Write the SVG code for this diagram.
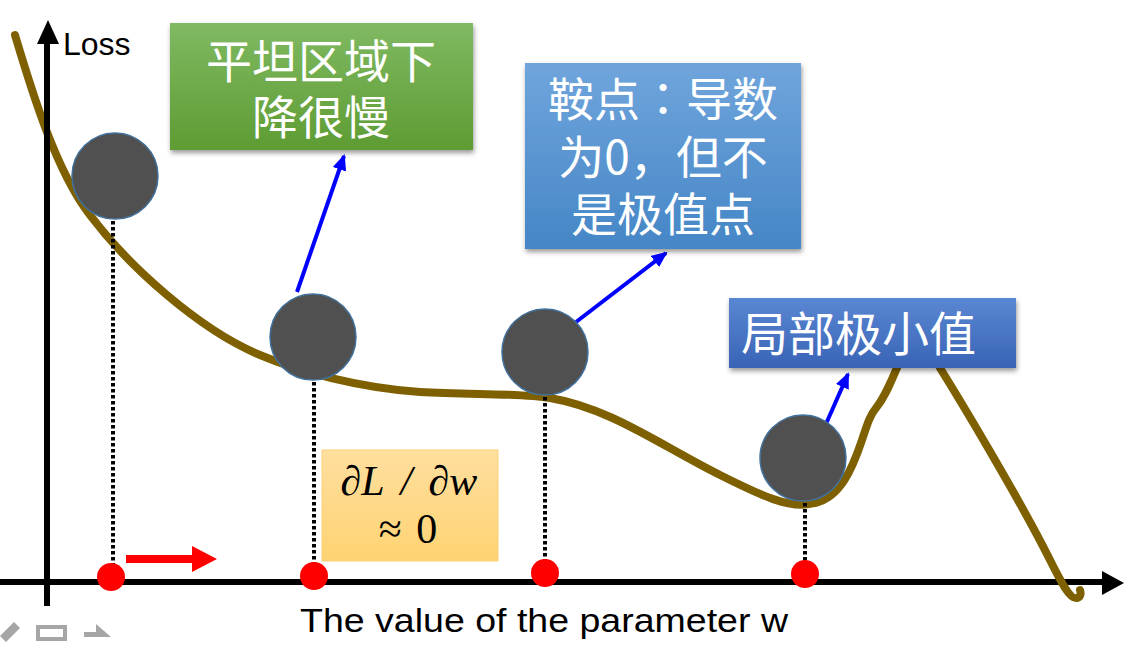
<svg xmlns="http://www.w3.org/2000/svg" width="1132" height="652" viewBox="0 0 1132 652">
<defs>
<linearGradient id="gGreen" x1="0" y1="0" x2="0" y2="1"><stop offset="0" stop-color="#80B962"/><stop offset="1" stop-color="#5E9C33"/></linearGradient>
<linearGradient id="gBlue1" x1="0" y1="0" x2="0" y2="1"><stop offset="0" stop-color="#70A5DC"/><stop offset="1" stop-color="#4586C6"/></linearGradient>
<linearGradient id="gBlue2" x1="0" y1="0" x2="0" y2="1"><stop offset="0" stop-color="#5A87D2"/><stop offset="1" stop-color="#3964B6"/></linearGradient>
<linearGradient id="gOrange" x1="0" y1="0" x2="0" y2="1"><stop offset="0" stop-color="#FFDF9F"/><stop offset="1" stop-color="#FFD372"/></linearGradient>
<filter id="shadow" x="-10%" y="-10%" width="120%" height="130%"><feDropShadow dx="1" dy="3" stdDeviation="2.5" flood-color="#000" flood-opacity="0.4"/></filter>
<marker id="blueHead" markerUnits="userSpaceOnUse" markerWidth="20" markerHeight="20" refX="14" refY="7" orient="auto"><path d="M0,0 L16,7 L0,14 Z" fill="#0000FF"/></marker>
</defs>
<style>
.ball{fill:#505050;stroke:#41719C;stroke-width:1.5}
.dot{stroke:#000;stroke-width:4;stroke-dasharray:3.5 2.5}
.red{fill:#FF0000}
.cjk{font-family:"Noto Sans CJK SC","Noto Sans",sans-serif;font-size:46px;fill:#FFFFFF;text-anchor:middle}
.tc{font-family:"Noto Sans CJK TC","Noto Sans CJK SC",sans-serif}
.blue{stroke:#0000FF;stroke-width:4;fill:none;marker-end:url(#blueHead)}
.lbl{font-family:"Liberation Sans","Open Sans",sans-serif;fill:#000}
.math{font-family:"Liberation Serif","DejaVu Serif",serif;font-size:42px;fill:#000;text-anchor:middle}
.ui{fill:#A6A6A6}
</style>
<rect width="1132" height="652" fill="#FFFFFF"/>
<g id="axes">
<line x1="0" y1="582" x2="1104" y2="582" stroke="#000" stroke-width="6"/>
<polygon points="1124,583 1102,571 1102,595" fill="#000"/>
</g>
<g id="curve">
<path d="M15,35 C30,85 55,170 90,215 C130,268 200,330 260,355 C300,372 360,388 420,392 C470,395 520,393 550,398 C610,408 660,445 720,475 C760,495 790,510 815,503 C840,497 852,470 862,440 C867,425 870,415 876,408 C888,393 893,375 905,350 C912,335 928,340 940,368 C960,400 1020,500 1050,560 C1060,580 1070,600 1077,598 C1081,597 1081,593 1080,590" fill="none" stroke="#7F6000" stroke-width="8" stroke-linecap="round"/>
</g>
<g id="yaxis">
<line x1="47" y1="42" x2="47" y2="606" stroke="#000" stroke-width="6"/>
<polygon points="48,20 37,44 59,44" fill="#000"/>
<text class="lbl" x="63" y="55" font-size="32">Loss</text>
</g>
<g id="connectors">
<line class="dot" x1="113" y1="221" x2="113" y2="564"/>
<line class="dot" x1="314" y1="382" x2="314" y2="564"/>
<line class="dot" x1="545" y1="397" x2="545" y2="560"/>
<line class="dot" x1="805" y1="503" x2="805" y2="562"/>
<line class="blue" x1="297" y1="292" x2="344" y2="156"/>
<line class="blue" x1="576" y1="322" x2="666" y2="253"/>
<line class="blue" x1="822" y1="433" x2="848" y2="374"/>
<path d="M126,555 H192 V546 L217,559 L192,572 V563 H126 Z" class="red"/>
</g>
<g id="ball1"><circle class="ball" cx="115" cy="176" r="43"/></g>
<g id="ball2"><circle class="ball" cx="313" cy="337" r="43"/></g>
<g id="ball3"><circle class="ball" cx="545" cy="352" r="43"/></g>
<g id="ball4"><circle class="ball" cx="803" cy="458" r="43"/></g>
<g id="dots">
<circle class="red" cx="111" cy="577" r="14"/>
<circle class="red" cx="314" cy="576" r="14"/>
<circle class="red" cx="545" cy="573" r="14"/>
<circle class="red" cx="805" cy="574" r="14"/>
</g>
<g id="plateau">
<rect x="170" y="23" width="303" height="127" fill="url(#gGreen)" filter="url(#shadow)"/>
<text class="cjk" x="321" y="78">平坦区域下</text>
<text class="cjk" x="321" y="134">降很慢</text>
</g>
<g id="saddle">
<rect x="525" y="63" width="276" height="186" fill="url(#gBlue1)" filter="url(#shadow)"/>
<text class="cjk" x="663" y="116">鞍点<tspan class="tc">：</tspan>导数</text>
<text class="cjk" x="663" y="174">为0，但不</text>
<text class="cjk" x="663" y="231">是极值点</text>
</g>
<g id="localmin">
<rect x="729" y="298" width="287" height="70" fill="url(#gBlue2)" filter="url(#shadow)"/>
<text class="cjk" x="741" y="351" style="text-anchor:start;font-size:47px">局部极小值</text>
</g>
<g id="gradient">
<rect x="322" y="450" width="176" height="111" fill="url(#gOrange)" stroke="#FCD27A" stroke-width="1"/>
<text class="math" x="409" y="495" font-style="italic" word-spacing="6">∂L / ∂w</text>
<text class="math" x="408" y="543" word-spacing="4">≈ 0</text>
</g>
<g id="xlabel">
<text class="lbl" x="300" y="632" font-size="33" textLength="488" lengthAdjust="spacingAndGlyphs">The value of the parameter w</text>
</g>
<g id="toolbar">
<path class="ui" d="M0,636 L14,622 L20,628 L6,642 Z"/>
<rect x="38" y="627" width="27" height="12" fill="none" stroke="#A6A6A6" stroke-width="4"/>
<path class="ui" d="M84,632 H96 V624 L111,637 H84 Z"/>
</g>
</svg>
